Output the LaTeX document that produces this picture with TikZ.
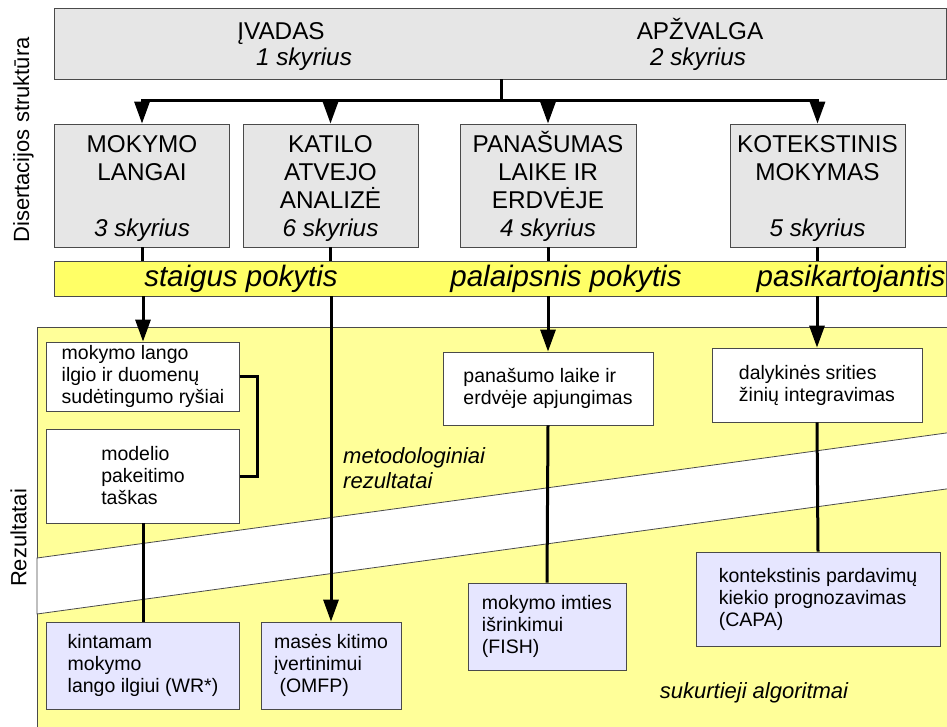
\documentclass[tikz,border=0pt]{standalone}
\usepackage{fontspec}
\setmainfont{Liberation Sans}
\usetikzlibrary{arrows.meta}

\definecolor{boxgray}{HTML}{E6E6E6}
\definecolor{stripyellow}{HTML}{FFFF66}
\definecolor{areayellow}{HTML}{FFFF99}
\definecolor{algblue}{HTML}{E6E6FF}
\definecolor{edgegray}{HTML}{4A4A4A}

\newcommand{\chapstrut}{\rule{0pt}{23pt}}

\tikzset{
  chapbox/.style={draw=edgegray, fill=boxgray, line width=0.8pt, inner sep=0pt,
    align=center, minimum width=175, minimum height=123,
    font=\fontsize{24.3}{28}\selectfont},
  hdrtext/.style={inner sep=0pt, font=\fontsize{24.3}{28}\selectfont},
  bandtext/.style={inner sep=0pt, anchor=base, font=\fontsize{29.5}{32}\selectfont\itshape},
  resbox/.style={draw=edgegray, fill=white, line width=0.8pt, inner sep=0pt,
    align=left, font=\fontsize{19.5}{22}\selectfont},
  algbox/.style={resbox, fill=algblue},
  notetext/.style={inner sep=0pt, align=left, font=\fontsize{22}{25}\selectfont\itshape},
  sidelabel/.style={inner sep=0pt, rotate=90, font=\fontsize{22}{25}\selectfont},
  conn/.style={line width=3pt},
  arr/.style={conn, -{Triangle[length=22pt,width=15pt]}}
}

\begin{document}
\begin{tikzpicture}[x=1pt,y=-1pt]
\useasboundingbox (0,0) rectangle (947,727);

% results area with the white diagonal gap
\fill[areayellow] (37,327) rectangle (947,727);
\draw[edgegray, line width=0.8pt] (947,327) -- (37,327) -- (37,727);
\filldraw[fill=white, draw=edgegray, line width=0.8pt]
  (37,558) -- (952,432.2) -- (952,488.2) -- (37,614) -- cycle;

% side labels
\node[sidelabel] (structlabel) at (23.5,140) {Disertacijos struktūra};
\node[sidelabel] (reslabel) at (18.5,538) {Rezultatai};

% top box
\node[chapbox, minimum width=892, minimum height=71] (top) at (500,43.5) {};
\node[hdrtext, anchor=base] (introtitle) at (281,40) {ĮVADAS};
\node[hdrtext, anchor=base] (introch) at (304,66) {\itshape 1 skyrius};
\node[hdrtext, anchor=base] (reviewtitle) at (700,40) {APŽVALGA};
\node[hdrtext, anchor=base] (reviewch) at (698,66) {\itshape 2 skyrius};

% chapters
\node[chapbox] (windows) at (142,185.5) {\chapstrut MOKYMO\\LANGAI\\~\\\textit{3 skyrius}};
\node[chapbox] (boiler) at (330.5,185.5) {\chapstrut KATILO\\ATVEJO\\ANALIZĖ\\\textit{6 skyrius}};
\node[chapbox, minimum width=176] (similar) at (548,185.5) {\chapstrut PANAŠUMAS\\LAIKE IR\\ERDVĖJE\\\textit{4 skyrius}};
\node[chapbox] (context) at (817.5,185.5) {\chapstrut KOTEKSTINIS\\MOKYMAS\\~\\\textit{5 skyrius}};

% change types
\node[draw=edgegray, fill=stripyellow, line width=0.8pt, minimum width=892, minimum height=35] (band) at (500,278.5) {};
\node[bandtext] (abrupt) at (241,287) {staigus pokytis};
\node[bandtext] (gradual) at (566,287) {palaipsnis pokytis};
\node[bandtext] (recurrent) at (851,287) {pasikartojantis};

% methodological results
\node[resbox, minimum width=193, minimum height=69] (lenrel) at (143,376.5) {mokymo lango\\ilgio ir duomenų\\sudėtingumo ryšiai};
\node[resbox, minimum width=193, minimum height=94] (changept) at (143,476) {modelio\\pakeitimo\\taškas};
\node[resbox, minimum width=210, minimum height=73] (merge) at (548,388.5) {panašumo laike ir\\erdvėje apjungimas};
\node[resbox, minimum width=210, minimum height=74] (domain) at (817,385) {dalykinės srities\\žinių integravimas};
\node[notetext, anchor=north west] (methnote) at (343,447) {metodologiniai\\rezultatai};

% algorithms
\node[algbox, minimum width=193, minimum height=87] (wrstar) at (143,665.5) {kintamam\\mokymo\\lango ilgiui (WR*)};
\node[algbox, minimum width=140, minimum height=87] (mass) at (331,665.5) {masės kitimo\\įvertinimui\\\hspace*{0.28em}(OMFP)};
\node[algbox, minimum width=158, minimum height=87] (fish) at (547,626.5) {mokymo imties\\išrinkimui\\(FISH)};
\node[algbox, minimum width=244, minimum height=94] (capa) at (818,599) {kontekstinis pardavimų\\kiekio prognozavimas\\(CAPA)};
\node[notetext, anchor=base] (algnote) at (754,698) {sukurtieji algoritmai};

% structure
\coordinate (bus) at (501,101);
\draw[conn] (top.south -| bus) -- (bus);
\draw[conn, line cap=rect] (windows.north |- bus) -- (context.north |- bus);
\foreach \ch in {windows,boiler,similar,context}
  \draw[arr] (\ch.north |- bus) -- (\ch.north);

\foreach \ch/\res in {windows/lenrel,boiler/mass,similar/merge,context/domain} {
  \draw[conn] (\ch.south) -- (band.north -| \ch.south);
  \draw[arr] (band.south -| \res.north) -- (\res.north);
}

\draw[conn] (lenrel.east) -- ++(18,0) |- (changept.east);
\draw[conn] (changept.south) -- (wrstar.north);
\draw[conn] (merge.south) -- (fish.north);
\draw[conn] (domain.south) -- (capa.north);
\end{tikzpicture}
\end{document}
